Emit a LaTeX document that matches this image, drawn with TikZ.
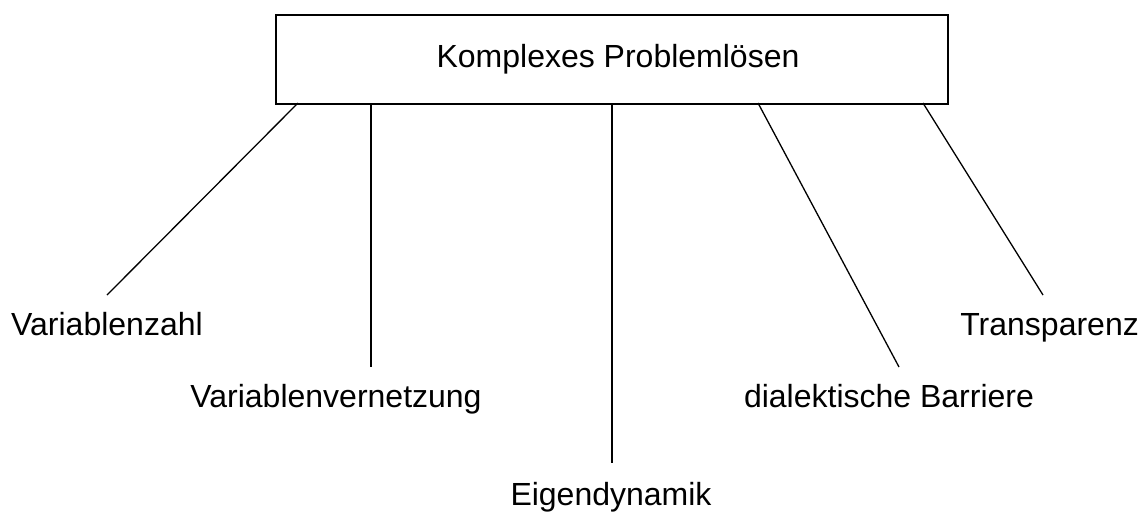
\documentclass[tikz,border=0pt]{standalone}
\usepackage{fontspec}
\setmainfont{Liberation Sans}
\begin{document}
\begin{tikzpicture}[x=1pt,y=-1pt,
  hub/.style={draw, line width=1.6pt, minimum width=672pt, minimum height=89pt,
              anchor=north west, inner sep=0pt},
  lbl/.style={font=\fontsize{32}{37}\selectfont, inner sep=0pt},
  spoke/.style={line width=1.3pt}]
\useasboundingbox (0,0) rectangle (1147,517);

% central box with its title
\node[hub] (hub) at (275,14) {};
\node[lbl, anchor=base] (title) at (618,67) {Komplexes Problemlösen};

% where the spokes leave the box
\coordinate (s1) at (298,103);
\coordinate (s2) at (371,103);
\coordinate (s3) at (612,103);
\coordinate (s4) at (758,103);
\coordinate (s5) at (923,103);

% free ends of the spokes
\coordinate (e1) at (107,295);
\coordinate (e2) at (371,367);
\coordinate (e3) at (612,463);
\coordinate (e4) at (899,367);
\coordinate (e5) at (1043,295);

\draw[spoke] (s1) -- (e1);
\draw[spoke] (s2) -- (e2);
\draw[spoke] (s3) -- (e3);
\draw[spoke] (s4) -- (e4);
\draw[spoke] (s5) -- (e5);

% labels
\node[lbl, anchor=base west] (l1) at (11,335) {Variablenzahl};
\node[lbl, anchor=base] (l2) at (336,407) {Variablenvernetzung};
\node[lbl, anchor=base] (l3) at (611,505) {Eigendynamik};
\node[lbl, anchor=base] (l4) at (889,407) {dialektische Barriere};
\node[lbl, anchor=base east] (l5) at (1139,335) {Transparenz};
\end{tikzpicture}
\end{document}
